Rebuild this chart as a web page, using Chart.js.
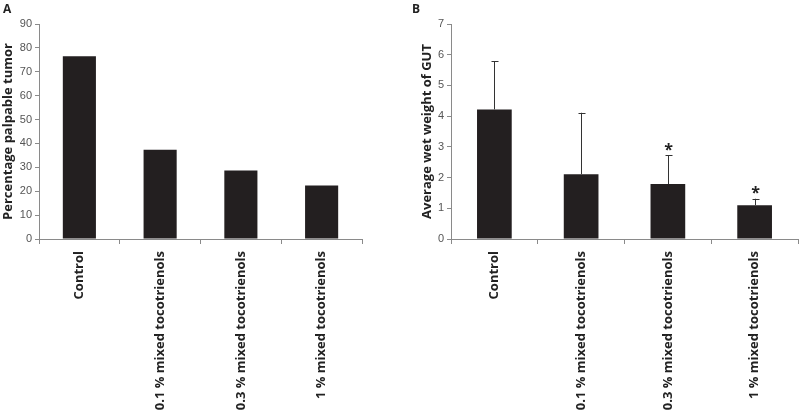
<!DOCTYPE html>
<html>
<head>
<meta charset="utf-8">
<script src="https://cdn.jsdelivr.net/npm/chart.js@4"></script>
<style>
  html, body { margin: 0; padding: 0; background: #fff; }
  #wrap { position: relative; width: 800px; height: 411px; overflow: hidden; }
  .panel { position: absolute; top: 0; width: 400px; height: 411px; }
  .tag { position: absolute; top: 0px; font: bold 12px "Open Sans", sans-serif; color: #222; }
</style>
</head>
<body>
<div id="wrap">
  <div class="panel" style="left:0"><canvas id="chart-a" width="400" height="411"></canvas></div>
  <div class="panel" style="left:400px"><canvas id="chart-b" width="400" height="411"></canvas></div>
  <div class="tag" style="left:3px">A</div>
  <div class="tag" style="left:412px">B</div>
</div>
<script>
// data
const groups = ["Control", "0.1 % mixed tocotrienols", "0.3 % mixed tocotrienols", "1 % mixed tocotrienols"];
const tumorPct = [76.5, 37.4, 28.7, 22.4];
const gutWeight = [4.22, 2.11, 1.79, 1.10];
const gutErr = [1.56, 2.0, 0.93, 0.21];
const gutStars = ["", "", "*", "*"];

const barColor = "#231f20";
const axisColor = "#8a8a8a";
const tickFont = { family: "'Liberation Sans Narrow', 'Arial Narrow', 'Liberation Sans', sans-serif", size: 11 };
const labelFont = { family: "'Open Sans', sans-serif", size: 13, weight: "bold" };

// upward error bars + asterisks, positioned with the chart's scales
const errorBarPlugin = {
  id: "errorBars",
  afterDatasetsDraw(chart, args, opts) {
    if (!opts.errors) return;
    const ctx = chart.ctx;
    const meta = chart.getDatasetMeta(0);
    const yScale = chart.scales.y;
    const values = chart.data.datasets[0].data;
    ctx.save();
    ctx.strokeStyle = "#333";
    ctx.lineWidth = 1;
    meta.data.forEach(function (bar, i) {
      const x = Math.round(bar.x) + 0.5;
      const yTop = yScale.getPixelForValue(values[i] + opts.errors[i]);
      const yBase = yScale.getPixelForValue(values[i]);
      ctx.beginPath();
      ctx.moveTo(x, yBase);
      ctx.lineTo(x, yTop);
      ctx.moveTo(x - 3, Math.round(yTop) + 0.5);
      ctx.lineTo(x + 4, Math.round(yTop) + 0.5);
      ctx.stroke();
      if (opts.stars && opts.stars[i]) {
        ctx.fillStyle = "#222";
        ctx.font = "bold 16px 'Open Sans', sans-serif";
        ctx.textAlign = "center";
        ctx.textBaseline = "middle";
        ctx.fillText(opts.stars[i], x, yTop - 5);
      }
    });
    ctx.restore();
  }
};

function makeChart(canvasId, values, yMax, yTitle, cfg) {
  return new Chart(document.getElementById(canvasId), {
    type: "bar",
    data: {
      labels: groups,
      datasets: [{
        data: values,
        backgroundColor: barColor,
        borderWidth: 0,
        categoryPercentage: 1,
        barPercentage: cfg.barPct
      }]
    },
    options: {
      responsive: false,
      animation: false,
      layout: { padding: { top: 24, right: cfg.padRight, left: 0, bottom: 0 } },
      plugins: {
        legend: { display: false },
        tooltip: { enabled: false },
        errorBars: { errors: cfg.errors, stars: cfg.stars }
      },
      scales: {
        x: {
          offset: true,
          grid: { offset: true, drawOnChartArea: false, tickLength: 5, color: axisColor },
          border: { color: axisColor },
          ticks: { autoSkip: false, maxRotation: 90, minRotation: 90, padding: 7, color: "#222", font: labelFont },
          afterFit: function (scale) { scale.height = 172; }
        },
        y: {
          min: 0,
          max: yMax,
          grid: { drawOnChartArea: false, tickLength: 4, color: axisColor },
          border: { color: axisColor },
          ticks: { stepSize: yMax > 10 ? 10 : 1, padding: 3, color: "#555", font: tickFont },
          title: {
            display: true,
            text: yTitle,
            color: "#222",
            font: { family: "'Open Sans', sans-serif", size: 13, weight: "bold" },
            padding: { top: cfg.titlePad, bottom: 0 }
          },
          afterFit: function (scale) { scale.width = cfg.axisWidth; }
        }
      }
    },
    plugins: [errorBarPlugin]
  });
}

makeChart("chart-a", tumorPct, 90, "Percentage palpable tumor",
  { barPct: 0.41, padRight: 38, axisWidth: 39, titlePad: 0, errors: null, stars: null });
makeChart("chart-b", gutWeight, 7, "Average wet weight of GUT",
  { barPct: 0.40, padRight: 2, axisWidth: 51, titlePad: 19, errors: gutErr, stars: gutStars });
</script>
</body>
</html>
